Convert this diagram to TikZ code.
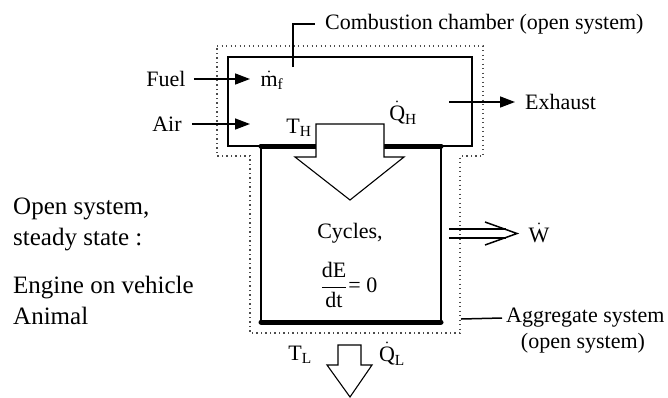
\RequirePackage{fix-cm}
\documentclass[tikz,border=0pt]{standalone}
\usepackage{fontspec}
\setmainfont{Liberation Serif}
\usetikzlibrary{arrows.meta}
\begin{document}
\begin{tikzpicture}[x=1pt,y=-1pt,
  thinline/.style={line width=1.5pt},
  thickline/.style={line width=5pt, line cap=round},
  arrowline/.style={line width=1.1pt, fill=white, line join=miter},
  dotline/.style={line width=1.3pt, dash pattern=on 1.2pt off 3.3pt, black!70},
  flow/.style={line width=1.5pt, -{Triangle[length=15pt,width=11pt]}},
  lbl/.style={font=\fontsize{22}{26}\selectfont, inner sep=0pt},
  big/.style={font=\fontsize{25}{30}\selectfont, inner sep=0pt, anchor=base west}]
\useasboundingbox (0,0) rectangle (668,397);

% outer dotted boundary (aggregate system)
\draw[dotline] (217,46) -- (483,46) -- (483,156) -- (460,156) -- (460,333) -- (250,333) -- (250,156) -- (217,156) -- cycle;

% combustion chamber
\coordinate (c1) at (228,57);
\coordinate (c2) at (472,57);
\coordinate (c3) at (472,146);
\coordinate (c4) at (228,146);
\coordinate (e1) at (261,146);
\coordinate (e2) at (441,146);
\coordinate (e3) at (441,322);
\coordinate (e4) at (261,322);
\coordinate (s1) at (316,146);
\coordinate (s2) at (384,146);
\draw[thinline] (e1) -- (c4) -- (c1) -- (c2) -- (c3) -- (e2);
\draw[thinline] (e1) -- (e4);
\draw[thinline] (e2) -- (e3);
\draw[thickline] (e4) -- (e3);
\draw[thickline] (e1) -- (s1);
\draw[thickline] (s2) -- (e2);

% heat arrow into engine
\draw[arrowline] (316,124) -- (384,124) -- (384,157) -- (404,157) -- (350,200) -- (295,157) -- (316,157) -- cycle;

% heat arrow out of engine
\draw[arrowline] (338,345) -- (361,345) -- (361,365) -- (372,365) -- (350,397) -- (327,365) -- (338,365) -- cycle;

% labels
\node[lbl] (fuel) at (166,79) {Fuel};
\node[lbl] (air) at (167,124) {Air};
\coordinate (fuelend) at (250,79);
\coordinate (airend) at (250,124);
\draw[flow] ([xshift=8pt]fuel.east) -- (fuelend);
\draw[flow] ([xshift=10pt]air.east) -- (airend);

\node[lbl] (mf) at (272,80) {$\dot{\mathrm{m}}_{\mathrm{f}}$};
\node[lbl] (th) at (299,128) {T$_{\mathrm{H}}$};
\node[lbl] (qh) at (403,113) {$\dot{\mathrm{Q}}_{\mathrm{H}}$};

\node[lbl, anchor=west] (cc) at (325,24) {Combustion chamber (open system)};
\coordinate (ccfoot) at (293,67);
\draw[thinline] (ccfoot) |- ([xshift=-10pt]cc.west);

\node[lbl, anchor=west] (exh) at (525,102) {Exhaust};
\coordinate (exhstart) at (449,102);
\draw[flow] (exhstart) -- ([xshift=-10pt]exh.west);

\node[lbl] (cyc) at (350,233) {Cycles,};
\node[lbl] (dedt) at (349,285) {$\displaystyle\frac{\mathrm{dE}}{\mathrm{dt}}$\kern1pt= 0};

% work arrow
\node[lbl] (w) at (539,233) {$\dot{\mathrm{W}}$};
\coordinate (wa) at (449,229);
\coordinate (wb) at (449,238);
\coordinate (wtip) at (517,233.5);
\draw[thinline] (wa) -- (506,229);
\draw[thinline] (wb) -- (506,238);
\draw[thinline, line join=miter] (485,222) -- (wtip) -- (485,245);

\node[lbl] (tl) at (300,355) {T$_{\mathrm{L}}$};
\node[lbl] (ql) at (392,354) {$\dot{\mathrm{Q}}_{\mathrm{L}}$};

\node[lbl, anchor=west] (agg) at (506,318) {Aggregate system};
\node[lbl] (agg2) at (583,343) {(open system)};
\coordinate (aggfoot) at (461,319);
\draw[thinline] (aggfoot) -- ([xshift=-4pt]agg.west);

% left texts
\node[big] (t1) at (13,214) {Open system,};
\node[big] (t2) at (13,245) {steady state :};
\node[big] (t3) at (13,293) {Engine on vehicle};
\node[big] (t4) at (13,324) {Animal};
\end{tikzpicture}
\end{document}
